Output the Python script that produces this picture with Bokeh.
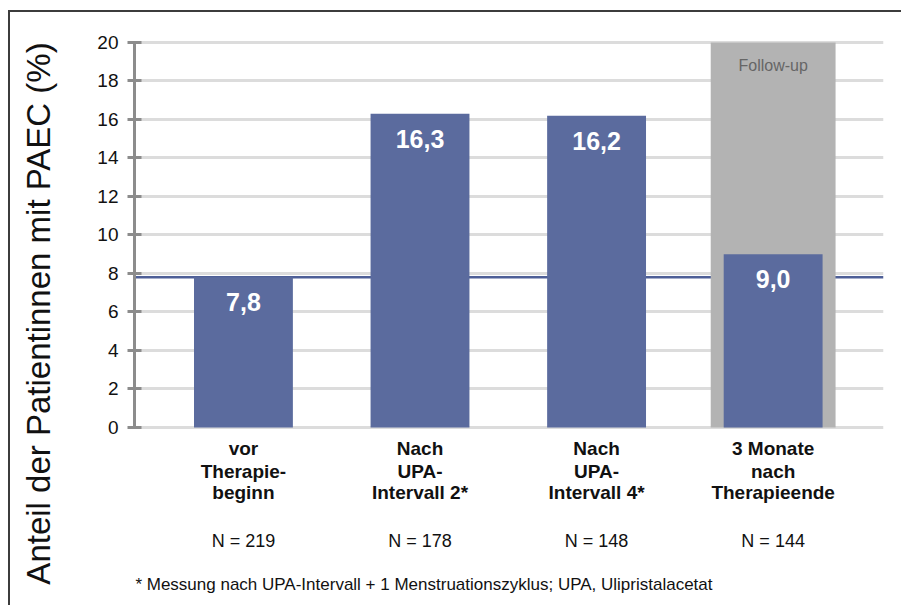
import math
from bokeh.plotting import figure
from bokeh.models import Range1d, Span, Label, FixedTicker, InlineStyleSheet
from bokeh.embed import file_html
from bokeh.resources import INLINE

# Share of patients with PAEC (%) at each measurement point
categories = [
    ["vor", "Therapie-", "beginn"],
    ["Nach", "UPA-", "Intervall 2*"],
    ["Nach", "UPA-", "Intervall 4*"],
    ["3 Monate", "nach", "Therapieende"],
]
values = [7.8, 16.3, 16.2, 9.0]
value_labels = ["7,8", "16,3", "16,2", "9,0"]
n_labels = ["N = 219", "N = 178", "N = 148", "N = 144"]
followup_top = 20
y_ticks = [0, 2, 4, 6, 8, 10, 12, 14, 16, 18, 20]
y_title = "Anteil der Patientinnen mit PAEC (%)"
footnote = "* Messung nach UPA-Intervall + 1 Menstruationszyklus; UPA, Ulipristalacetat"

BLUE = "#5b6b9e"
GREY = "#b3b3b3"
FONT = "Liberation Sans"
INK = "#111111"

xs = list(range(len(values)))

# thin frame line along the left and top edge of the graphic
frame_css = InlineStyleSheet(css="""
:host { position: relative; }
:host::after {
  content: ""; position: absolute; left: 8px; top: 10px; right: 0; bottom: 0;
  border-left: 2px solid #3c3c3c; border-top: 2px solid #3c3c3c;
  pointer-events: none;
}
""")

# the plot area reaches down to the footnote so the text rows sit inside it
p = figure(
    width=901, height=605,
    x_range=Range1d(-0.617, 3.625),
    y_range=Range1d(-8.987, 20.83),
    min_border_left=134, min_border_right=18,
    min_border_top=26, min_border_bottom=5,
    output_backend="svg", toolbar_location=None,
    background_fill_color="white", border_fill_color="white",
    outline_line_color=None,
    stylesheets=[frame_css],
)

p.xaxis.visible = False
p.xgrid.visible = False
p.ygrid.grid_line_color = "#dcdcdc"
p.ygrid.grid_line_width = 3
p.ygrid.level = "underlay"

ya = p.yaxis[0]
ya.ticker = FixedTicker(ticks=y_ticks)
ya.bounds = (0, 20)
ya.axis_line_color = "#8c8c8c"
ya.axis_line_width = 3
ya.major_tick_line_color = "#8c8c8c"
ya.major_tick_line_width = 3
ya.major_tick_in = 7
ya.major_tick_out = 7
ya.minor_tick_line_color = None
ya.major_label_standoff = 9
ya.major_label_text_font = FONT
ya.major_label_text_font_size = "19px"
ya.major_label_text_color = INK
ya.axis_label = y_title
ya.axis_label_text_font = FONT
ya.axis_label_text_font_size = "33px"
ya.axis_label_text_font_style = "normal"
ya.axis_label_text_color = INK
ya.axis_label_standoff = 37

# reference line at the baseline value
p.add_layout(Span(location=values[0], dimension="width", line_color="#4e5f97",
                  line_width=2.5, level="underlay"))

# follow-up background bar
p.vbar(x=[xs[-1]], top=[followup_top], bottom=0, width=0.707,
       fill_color=GREY, line_color=None)

# main bars
p.vbar(x=xs, top=values, bottom=0, width=0.56, fill_color=BLUE, line_color=None)

# value labels inside the bars
for x, v, t in zip(xs, values, value_labels):
    p.add_layout(Label(x=x, y=v - 1.3, text=t, text_align="center",
                       text_baseline="middle", text_color="white",
                       text_font=FONT, text_font_style="bold",
                       text_font_size="25px"))

p.add_layout(Label(x=xs[-1], y=18.8, text="Follow-up", text_align="center",
                   text_baseline="middle", text_color="#666666",
                   text_font=FONT, text_font_size="16px"))

# category names below the bars
line_ys = [-1.09, -2.26, -3.40]
for x, lines in zip(xs, categories):
    for ly, t in zip(line_ys, lines):
        p.add_layout(Label(x=x, y=ly, text=t, text_align="center",
                           text_baseline="middle", text_color=INK,
                           text_font=FONT, text_font_style="bold",
                           text_font_size="19px"))

# sample sizes
for x, t in zip(xs, n_labels):
    p.add_layout(Label(x=x, y=-5.92, text=t, text_align="center",
                       text_baseline="middle", text_color=INK,
                       text_font=FONT, text_font_size="18px"))

p.add_layout(Label(x=-0.612, y=-8.156, text=footnote, text_align="left",
                   text_baseline="middle", text_color=INK,
                   text_font=FONT, text_font_size="17px"))

open("out.html", "w").write(file_html(p, INLINE))
